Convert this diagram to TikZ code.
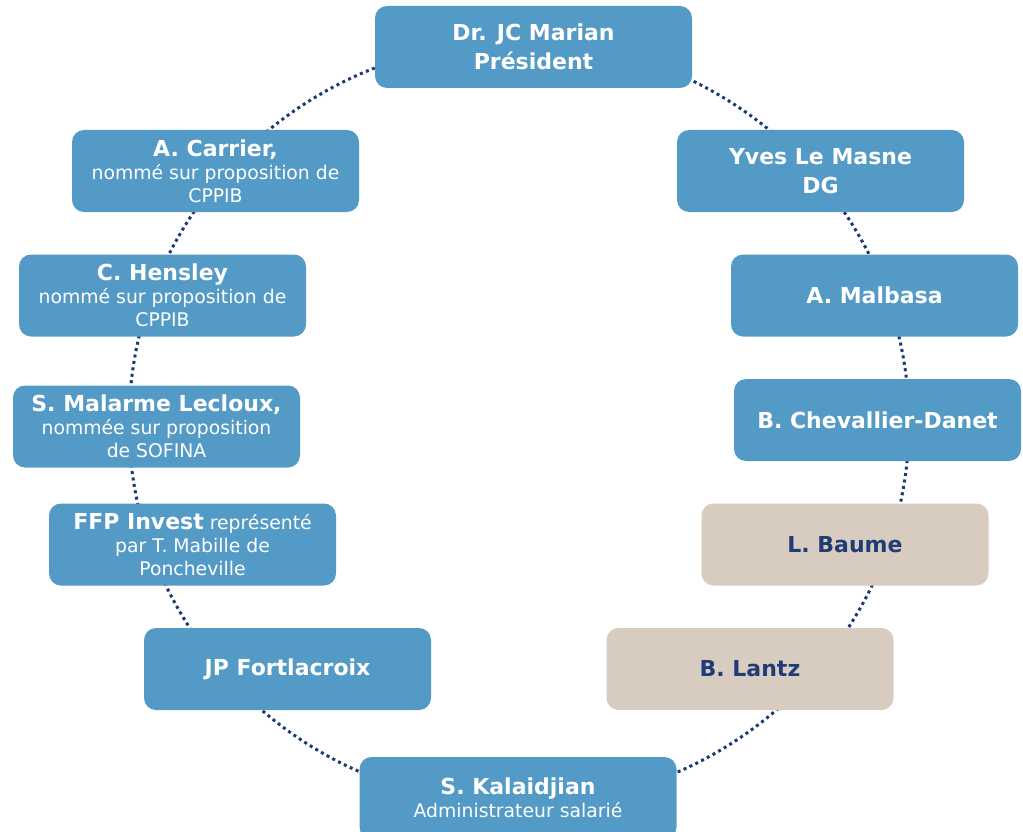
\documentclass[tikz,border=0pt]{standalone}
\usepackage{fontspec}
\setmainfont{DejaVu Sans}
\definecolor{boxblue}{RGB}{83,155,198}
\definecolor{boxbeige}{RGB}{216,204,192}
\definecolor{guestnavy}{RGB}{31,60,118}
\definecolor{ringnavy}{RGB}{27,58,112}
\newcommand\nm[1]{{\fontsize{22}{29}\selectfont\bfseries #1}}
\tikzset{
  member/.style={rectangle, rounded corners=12pt, fill=boxblue, text=white,
    minimum width=287pt, minimum height=82pt, inner sep=0pt, align=center,
    font=\fontsize{18.8}{23}\selectfont},
  widebox/.style={minimum width=317pt},
  guest/.style={fill=boxbeige, text=guestnavy},
  namefont/.style={font=\fontsize{22}{29}\selectfont\bfseries},
  ring/.style={draw=ringnavy, line width=3pt, dash pattern=on 3pt off 3.5pt}
}
\begin{document}
\begin{tikzpicture}[x=1pt,y=-1pt]
\clip (0,0) rectangle (1023,832);
\draw[ring] (519,423) ellipse [x radius=390pt, y radius=382pt];
\node[member,widebox,namefont] (marian) at (533.5,47) {Dr. JC Marian\\Président};
\node[member,namefont] (lemasne) at (820.5,171) {Yves Le Masne\\DG};
\node[member] (carrier) at (215.5,171) {\nm{A. Carrier,}\\nommé sur proposition de\\CPPIB};
\node[member] (hensley) at (162.5,295.5) {\nm{C. Hensley}\\nommé sur proposition de\\CPPIB};
\node[member] (malbasa) at (874.5,295.5) {\nm{A. Malbasa}};
\node[member] (lecloux) at (156.5,426.5) {\nm{S. Malarme Lecloux,}\\nommée sur proposition\\de SOFINA};
\node[member] (chevallier) at (877.5,420) {\nm{B. Chevallier-Danet}};
\node[member] (ffp) at (192.5,544.5) {\nm{FFP Invest} représenté\\par T. Mabille de\\Poncheville};
\node[member,guest] (baume) at (845,544.5) {\nm{L. Baume}};
\node[member] (fortlacroix) at (287.5,669) {\nm{JP Fortlacroix}};
\node[member,guest] (lantz) at (750,669) {\nm{B. Lantz}};
\node[member,widebox] (kalaidjian) at (518,798) {\nm{S. Kalaidjian}\\Administrateur salarié};
\end{tikzpicture}
\end{document}
